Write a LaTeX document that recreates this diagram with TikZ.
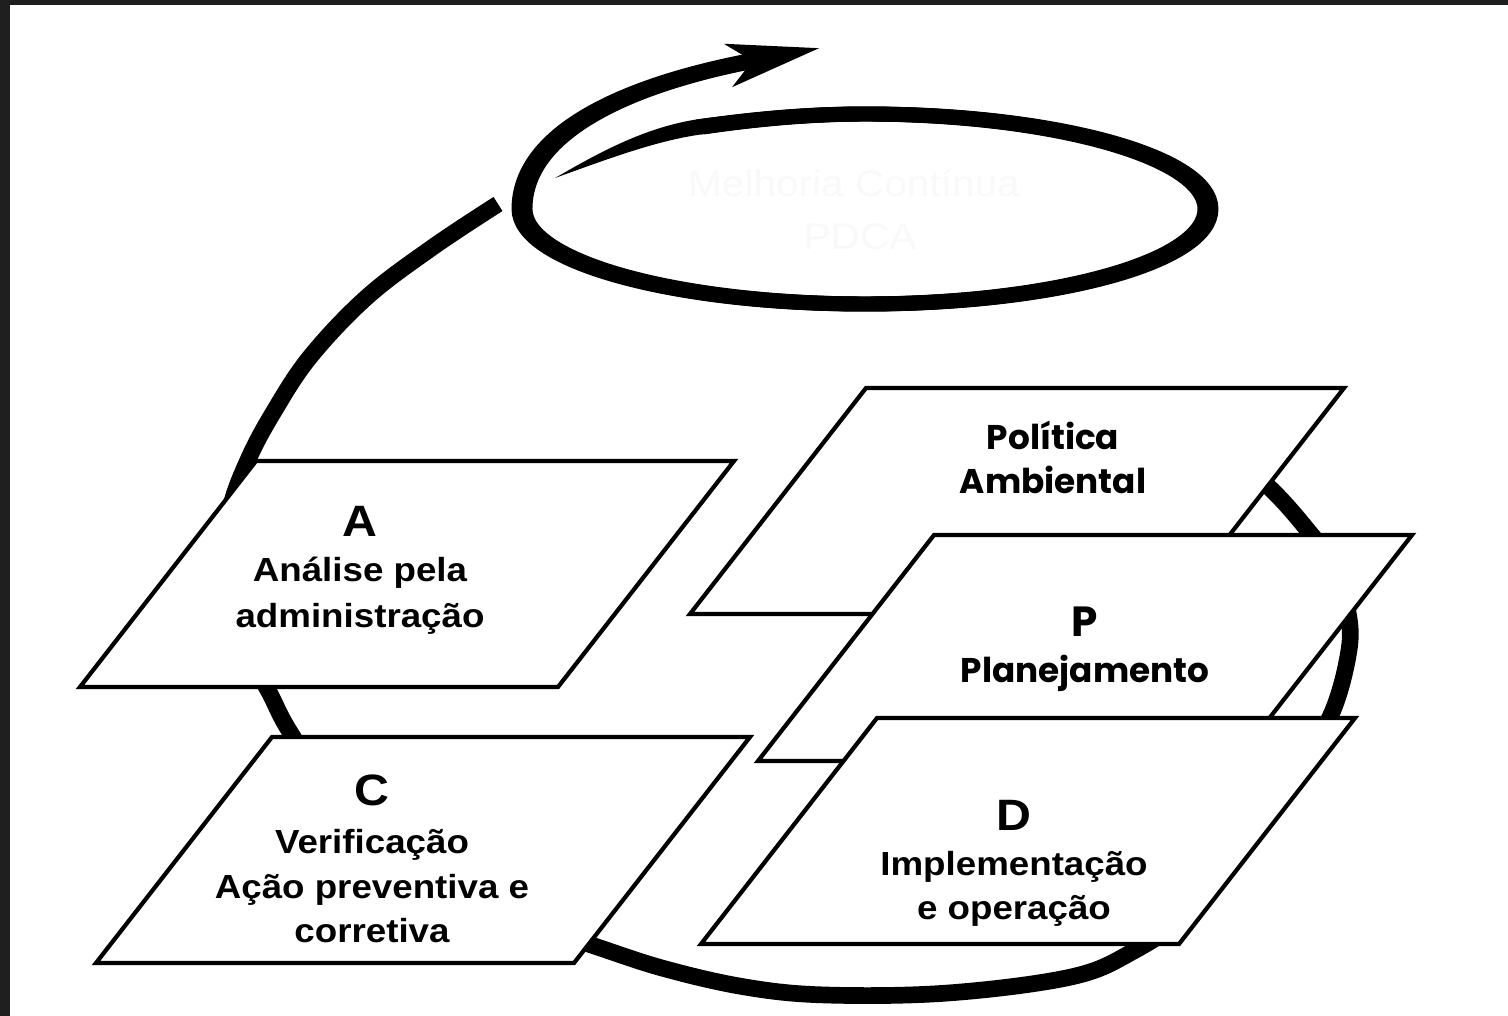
\documentclass[tikz,border=0pt]{standalone}
\usepackage{fontspec}
\setmainfont{Liberation Sans}[FakeStretch=1.1]
\newfontfamily\geofont{Poppins}
\usetikzlibrary{arrows.meta, positioning}

\begin{document}
\begin{tikzpicture}[x=0.02cm, y=-0.02cm, line join=round,
                    ring/.style={line width=8.5pt},
                    card/.style={draw, fill=white, line width=2.4pt, line join=miter},
                    letter/.style={anchor=base, font=\fontsize{25}{30}\selectfont\bfseries},
                    txt/.style={anchor=base, font=\fontsize{19}{23}\selectfont\bfseries},
                    geotxt/.style={anchor=base, font=\geofont\fontsize{19.5}{23}\selectfont\bfseries},
                    geoletter/.style={anchor=base, font=\geofont\fontsize{24}{28}\selectfont\bfseries},
                    ghost/.style={anchor=base, text=black!2.5, font=\fontsize{21}{25}\selectfont}]

  % frame
  \fill[black!88] (0,0) rectangle (1508,1016);
  \fill[white] (10,5) rectangle (1508,1016);
  \useasboundingbox (0,0) rectangle (1508,1016);

  % big loop, mostly behind the cards
  \draw[ring, line width=9.5pt] plot[smooth, tension=0.6] coordinates {
    (498,204) (433,247) (367,297) (310,357) (273,413) (248,460) (230,510)
    (225,570) (235,630) (268,690) (290,732) (340,805) (420,875) (510,920)
    (585,943) (662,968) (745,987) (826,995) (948,993) (1071,977) (1132,952)
    (1185,915) (1240,850) (1290,775) (1330,717) (1349,650) (1347,607)
    (1333,565) (1310,533) (1272,490) (1220,445)};

  % top spiral: thin tail, then the ring, then the arrow
  \fill (555,178) .. controls (600,152) and (645,127.5) .. (697,119.4)
    -- (720,116.6) -- (722,131.6) -- (700,134.6)
    .. controls (655,141) and (605,160) .. cycle;
  \foreach \s in {-3,3}
    \draw[ring, xshift=\s*0.02cm, shorten >=38pt]
      (700,127) .. controls (755,119) and (810,114) .. (865,114)
      .. controls (1054,114) and (1208,157) .. (1208,209)
      .. controls (1208,262) and (1054,304) .. (865,304)
      .. controls (676,304) and (522,262) .. (522,209)
      .. controls (522,135) and (620,86) .. (820,48);
  \draw[ring, -{Stealth[length=52pt, width=24pt, inset=13pt]}]
    (700,127) .. controls (755,119) and (810,114) .. (865,114)
    .. controls (1054,114) and (1208,157) .. (1208,209)
    .. controls (1208,262) and (1054,304) .. (865,304)
    .. controls (676,304) and (522,262) .. (522,209)
    .. controls (522,135) and (620,86) .. (820,48);
  \node[ghost] (mc) at (854,197) {Melhoria Contínua};
  \node[ghost] (pdca) at (860,250) {PDCA};

  % cards: A, C, Politica, P, D
  \foreach \x/\y in {256/461, 272/737, 866/388, 934/535, 877/718}
    \draw[card] (\x,\y) -- ++(478,0) -- ++(-176,226) -- ++(-478,0) -- cycle;

  \node[letter] (lA) at (360,537) {A};
  \node[txt] (tA1) at (360,582) {Análise pela};
  \node[txt] (tA2) at (360,627) {administração};

  \node[letter] (lC) at (372,805) {C};
  \node[txt] (tC1) at (372,853) {Verificação};
  \node[txt] (tC2) at (372,898) {Ação preventiva e};
  \node[txt] (tC3) at (372,942) {corretiva};

  \node[geotxt] (pol1) at (1053,450) {Política};
  \node[geotxt] (pol2) at (1053,494) {Ambiental};

  \node[geoletter] (lP) at (1085,637) {P};
  \node[geotxt] (tP) at (1085,682) {Planejamento};

  \node[letter] (lD) at (1014,830) {D};
  \node[txt] (tD1) at (1014,875) {Implementação};
  \node[txt] (tD2) at (1014,919) {e operação};

\end{tikzpicture}
\end{document}
